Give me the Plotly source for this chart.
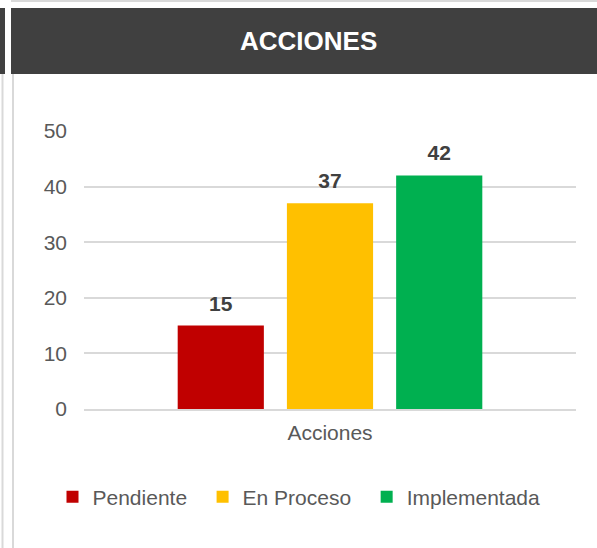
import plotly.graph_objects as go

# ---- data ----
categories = ["Acciones"]
series_names = ["Pendiente", "En Proceso", "Implementada"]
series_values = [[15], [37], [42]]
series_colors = ["#C00000", "#FFC000", "#00B050"]
y_ticks = [0, 10, 20, 30, 40, 50]
title_text = "ACCIONES"

# ---- geometry (pixels) ----
W, H = 597, 548
L, R, T, B = 84, 21, 131, 139
PW, PH = W - L - R, H - T - B


def px(x):
    return (x - L) / PW


def py(y):
    return (H - B - y) / PH


FONT = "Liberation Sans, Arial, sans-serif"
GRID = "#D9D9D9"
DARK = "#404040"

fig = go.Figure()
n = len(series_names)
for i, (name, vals, col) in enumerate(zip(series_names, series_values, series_colors)):
    # en-space after all but the last legend entry widens the gap between entries
    legend_name = name + ("\u2002" if i < n - 1 else "")
    fig.add_trace(go.Bar(
        x=categories, y=vals, name=legend_name, offsetgroup=name,
        marker=dict(color=col, line=dict(width=0)),
        hovertemplate=f"{name}: %{{y}}<extra></extra>",
    ))
# value labels, aligned with the grouped bars
for name, vals in zip(series_names, series_values):
    fig.add_trace(go.Scatter(
        x=categories, y=vals, name=name, offsetgroup=name, showlegend=False,
        mode="markers+text", text=[f"<b>{v}</b>" for v in vals], textposition="top center",
        marker=dict(size=14, opacity=0), cliponaxis=False, hoverinfo="skip",
        textfont=dict(family=FONT, size=21, color=DARK),
    ))

shapes = [
    dict(type="line", xref="paper", yref="paper", x0=px(11), x1=px(597), y0=py(1), y1=py(1),
         line=dict(color=GRID, width=2), layer="above"),
    dict(type="rect", xref="paper", yref="paper", x0=px(-6), x1=px(5), y0=py(74), y1=py(8),
         fillcolor=DARK, line=dict(width=0), layer="above"),
    dict(type="rect", xref="paper", yref="paper", x0=px(11), x1=px(600), y0=py(74), y1=py(8),
         fillcolor=DARK, line=dict(width=0), layer="above"),
    dict(type="line", xref="paper", yref="paper", x0=px(2.5), x1=px(2.5), y0=py(74), y1=py(548),
         line=dict(color=GRID, width=2), layer="above"),
    dict(type="line", xref="paper", yref="paper", x0=px(13), x1=px(13), y0=py(74), y1=py(548),
         line=dict(color=GRID, width=2), layer="above"),
]

fig.update_layout(
    width=W, height=H,
    margin=dict(l=L, r=R, t=T, b=B, pad=0),
    paper_bgcolor="white", plot_bgcolor="white",
    barmode="group", bargap=0.334, bargroupgap=0.211,
    scattermode="group", scattergap=0.334,
    font=dict(family=FONT, size=21, color="#595959"),
    showlegend=True,
    legend=dict(orientation="h", x=px(299), xanchor="center", y=py(497), yanchor="middle",
                font=dict(family=FONT, size=21, color="#595959"), bgcolor="rgba(0,0,0,0)"),
    shapes=shapes,
    annotations=[dict(text=f"<b>{title_text}</b>", xref="paper", yref="paper",
                      x=px(308.5), y=py(41), xanchor="center", yanchor="middle",
                      showarrow=False, font=dict(family=FONT, size=26, color="white"))],
)
fig.update_xaxes(showgrid=False, showline=True, linecolor=GRID, linewidth=2,
                 ticks="", ticklabelstandoff=4,
                 tickfont=dict(family=FONT, size=21, color="#595959"))
fig.update_yaxes(range=[0, 50], tickvals=y_ticks, showgrid=True, gridcolor=GRID, gridwidth=1.5,
                 zeroline=False, showline=False, ticks="", ticklabelstandoff=16,
                 tickfont=dict(family=FONT, size=21, color="#595959"))

fig.write_html("out.html", config={"displayModeBar": False},
               post_script="document.body.style.margin='0';document.body.style.overflow='hidden';")
